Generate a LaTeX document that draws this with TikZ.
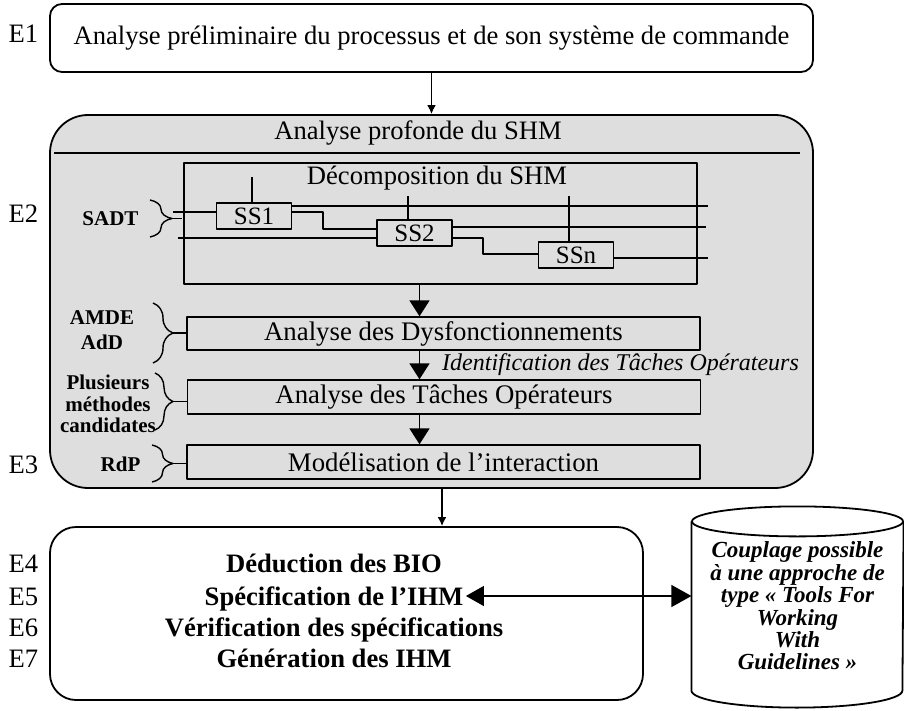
\documentclass[tikz,border=0pt]{standalone}
\usepackage{fontspec}
\setmainfont{Liberation Serif}
\usetikzlibrary{%
  arrows.meta,% Triangle tips
  calc,%
  positioning,%
  decorations.pathreplacing% braces
}
\definecolor{shmgray}{RGB}{222,222,222}

\begin{document}
\begin{tikzpicture}[
    x=0.5pt,y=-0.5pt,
    >={Latex[length=4.5pt,width=4.5pt]},
    line width=0.6pt,line join=round,
    font=\fontsize{13.3}{15.9}\selectfont,
    bigtip/.style={-{Triangle[length=8pt,width=10pt]}},
    phase/.style={rectangle,draw,line width=0.9pt,rounded corners=6pt,inner sep=0pt},
    subbox/.style={rectangle,draw,line width=0.7pt,inner sep=0pt,
        minimum width=256.5pt,minimum height=16.5pt,
        font=\fontsize{13.4}{15}\selectfont},
    ssbox/.style={rectangle,draw,line width=0.8pt,inner sep=0pt,
        minimum width=37.5pt,minimum height=13pt,
        font=\fontsize{12.5}{14}\selectfont},
    method/.style={font=\bfseries\fontsize{10.5}{10.75}\selectfont,
        align=center,inner sep=0pt},
    stage/.style={anchor=base west,inner sep=0pt},
    result/.style={anchor=base,inner sep=1pt,font=\bfseries\fontsize{13.3}{15.9}\selectfont},
    bigbrace/.style={decorate,decoration={brace,amplitude=#1},line width=0.7pt},
    bigbrace/.default=11pt
  ]
    \useasboundingbox (0,0) rectangle (904,711);

    % E1
    \node (prelim) [phase,minimum width=381.5pt,minimum height=34pt] at (431.5,38)
        {Analyse préliminaire du processus et de son système de commande};

    % E2 - E3
    \node (shm) [phase,fill=shmgray,rounded corners=19pt,
        minimum width=381.5pt,minimum height=186.5pt] at (431.5,301.5) {};
    \node (shmtitle) at (418,133) {Analyse profonde du SHM};
    \draw[line width=0.9pt] ($(shm.north west)+(5,39)$) -- ($(shm.north east)+(-14,39)$);

    \node (decomp) [subbox,minimum height=60.5pt] at (440.5,223.5) {};
    \node (decomptitle) at (437,178) {Décomposition du SHM};
    \node (ss1) [ssbox] at (254,216) {SS1};
    \node (ss2) [ssbox] at (414.5,233) {SS2};
    \node (ssn) [ssbox] at (576,255) {SSn};

    \node (dysf)  [subbox] at (443.5,333.5) {Analyse des Dysfonctionnements};
    \node (ident) [font=\itshape\fontsize{12}{14}\selectfont] at (620.5,365)
        {Identification des Tâches Opérateurs};
    \node (tache) [subbox,minimum height=17pt] at (444,397) {Analyse des Tâches Opérateurs};
    \node (model) [subbox,minimum height=17pt] at (443.5,462) {Modélisation de l’interaction};

    % SADT
    \begin{scope}[line width=0.7pt]
        \coordinate (in1)  at (173,212);
        \coordinate (in2)  at (178,238);
        \coordinate (out1) at (708,206);
        \coordinate (out2) at (706,227);
        \coordinate (out3) at (708,258);
        \coordinate (ctl1) at (252,177);
        \coordinate (ctl2) at (408,196);
        \coordinate (ctl3) at (569,196);
        \coordinate (j1)   at (323,229);
        \coordinate (j2)   at (483,254);
        \draw (in1) -- (in1 -| ss1.west);
        \draw (in2) -- (in2 -| ss2.west);
        \draw (ctl1) -- (ctl1 |- ss1.north);
        \draw (ctl2) -- (ctl2 |- ss2.north);
        \draw (ctl3) -- (ctl3 |- ssn.north);
        \draw (out1 -| ss1.east) -- (out1);
        \draw (ss1.east |- in1) -| (j1) -- (j1 -| ss2.west);
        \draw (out2 -| ss2.east) -- (out2);
        \draw (ss2.east |- in2) -| (j2) -- (j2 -| ssn.west);
        \draw (out3 -| ssn.east) -- (out3);
    \end{scope}

    % methods
    \node (sadt) [method] at (110.5,219) {SADT};
    \node (amde) [method,font=\bfseries\fontsize{10.5}{12.5}\selectfont] at (102,330) {AMDE\\AdD};
    \node (plus) [method] at (108,404) {Plusieurs\\méthodes\\candidates};
    \node (rdp)  [method] at (120.5,464) {RdP};

    \draw[bigbrace] (150,200) -- (150,237);
    \draw[bigbrace=10pt] (153,303) -- (153,363);
    \draw[bigbrace=9pt] (155,373) -- (155,430);
    \draw[bigbrace=10.5pt] (152,445) -- (152,482);
    \coordinate (sadttip) at (172,218.5);
    \coordinate (sadtend) at (182,218.5);
    \coordinate (amdetip) at (173,333);
    \coordinate (plustip) at (173,401.5);
    \coordinate (rdptip)  at (173,463.5);
    \draw[line width=0.7pt] (sadttip) -- (sadtend);
    \draw[line width=0.7pt] (amdetip) -- (amdetip -| dysf.west);
    \draw[line width=0.7pt] (plustip) -- (plustip -| tache.west);
    \draw[line width=0.7pt] (rdptip) -- (rdptip -| model.west);

    % E4 - E7
    \node (synth) [phase,rounded corners=13pt,minimum width=296.5pt,minimum height=86.5pt]
        at (346.5,613.5) {};
    \node (bio)   [result] at (334,572) {Déduction des BIO};
    \node (spec)  [result] at (334,605) {Spécification de l’IHM};
    \node (verif) [result] at (334,636) {Vérification des spécifications};
    \node (gen)   [result] at (334,667) {Génération des IHM};

    \node (tfwg) [minimum width=105.5pt,minimum height=84pt,inner sep=0pt,align=center,
        font=\bfseries\itshape\fontsize{11.5}{11.2}\selectfont] at (797.5,606)
        {Couplage possible\\à une approche de\\type « Tools For\\Working\\With\\Guidelines »};
    \draw[line width=0.9pt] (tfwg.north west) -- (tfwg.south west)
        arc[start angle=180,end angle=360,x radius=52.75pt,y radius=8.5pt] -- (tfwg.north east);
    \draw[line width=0.9pt] (tfwg.north) ellipse[x radius=52.75pt,y radius=7.5pt];

    \node (e1) [stage] at (8,43)  {E1};
    \node (e2) [stage] at (8,222) {E2};
    \node (e3) [stage] at (8,473) {E3};
    \node (e4) [stage] at (8,572) {E4};
    \node (e5) [stage] at (8,605) {E5};
    \node (e6) [stage] at (8,636) {E6};
    \node (e7) [stage] at (8,667) {E7};

    \begin{scope}[line width=0.9pt]
        \coordinate (axis) at (419.5,0);
        \coordinate (down) at (442,0);
        \draw[->] (prelim.south) -- (shm.north);
        \draw[bigtip] (decomp.south -| axis) -- (dysf.north -| axis);
        \draw[bigtip] (dysf.south -| axis) -- (tache.north -| axis);
        \draw[bigtip] (tache.south -| axis) -- (model.north -| axis);
        \draw[->] (shm.south -| down) -- (synth.north -| down);
        \draw[{Triangle[length=9pt,width=10pt]}-{Triangle[length=10pt,width=11pt]},line width=0.6pt]
            ([yshift=4.5pt]spec.base east) -- ([yshift=4.5pt]spec.base east -| tfwg.west);
    \end{scope}
\end{tikzpicture}
\end{document}
